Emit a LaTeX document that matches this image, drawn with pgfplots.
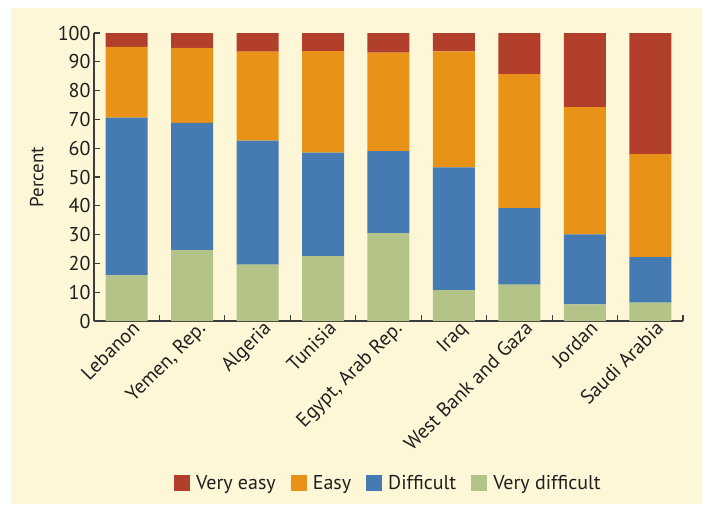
\documentclass[border=0pt]{standalone}
\usepackage{pgfplots}
\usepackage{pgfplotstable}
\pgfplotsset{compat=1.18}
\usepackage{fontspec}
\setmainfont{PT Sans}

\definecolor{cream}{RGB}{253,247,215}
\definecolor{veasy}{RGB}{178,62,44}
\definecolor{easy}{RGB}{232,146,24}
\definecolor{diff}{RGB}{69,122,178}
\definecolor{vdiff}{RGB}{180,196,136}
\definecolor{axgray}{RGB}{60,60,60}
\definecolor{txt}{RGB}{35,31,32}

% segment shares, bottom to top
\pgfplotstableread{
x vd d e ve
0 15.8 54.8 24.6 4.8
1 24.6 44.2 26.0 5.2
2 19.6 43.0 30.9 6.5
3 22.5 36.0 35.2 6.3
4 30.5 28.5 34.2 6.8
5 10.7 42.6 40.3 6.4
6 12.6 26.6 46.5 14.3
7 5.8 24.3 44.2 25.7
8 6.4 15.8 35.7 42.1
}\data

\pgfplotsset{legsq/.style={legend image code/.code={\fill[##1] (0pt,-8pt) rectangle (16pt,8pt);}}}

\begin{document}
\begin{tikzpicture}
\useasboundingbox (0,0) rectangle (702pt,504pt);
\fill[white] (0,0) rectangle (702pt,504pt);
\fill[cream] (11pt,0) rectangle (702pt,496pt);
\begin{axis}[
  scale only axis, width=589pt, height=288pt,
  at={(94pt,183pt)}, anchor=south west,
  ybar stacked, bar width=42pt,
  xmin=-0.5, xmax=8.5, ymin=0, ymax=100,
  axis x line*=bottom, axis y line*=left,
  axis line style={axgray, line width=1.2pt, -},
  tick style={axgray, line width=1.2pt},
  tick align=inside, major tick length=6pt,
  ytick={0,10,...,100},
  xtick={-0.5,0.5,...,8.5},
  x tick label as interval,
  xticklabels={Lebanon,{Yemen, Rep.},Algeria,Tunisia,{Egypt, Arab Rep.},Iraq,West Bank and Gaza,Jordan,Saudi Arabia},
  /pgf/number format/assume math mode=true,
  tick label style={font=\fontsize{20pt}{23pt}\selectfont, text=txt},
  x tick label style={rotate=45, anchor=north east, inner sep=2pt, xshift=6pt},
  ylabel={Percent},
  ylabel style={at={(axis description cs:-0.097,0.5)}, anchor=center, font=\fontsize{19pt}{22pt}\selectfont, text=txt},
  legend columns=-1, reverse legend,
  legend style={at={(0.5,-0.5625)}, anchor=center, draw=none, fill=none,
    font=\fontsize{20pt}{23pt}\selectfont, text=txt,
    /tikz/every odd column/.append style={column sep=4pt},
    /tikz/every even column/.append style={column sep=13pt}},
]
\addplot[fill=vdiff, draw=none, legsq] table[x=x, y=vd] {\data};
\addplot[fill=diff, draw=none, legsq] table[x=x, y=d] {\data};
\addplot[fill=easy, draw=none, legsq] table[x=x, y=e] {\data};
\addplot[fill=veasy, draw=none, legsq] table[x=x, y=ve] {\data};
\legend{Very difficult,Difficult,Easy,Very easy}
\end{axis}
\end{tikzpicture}
\end{document}
